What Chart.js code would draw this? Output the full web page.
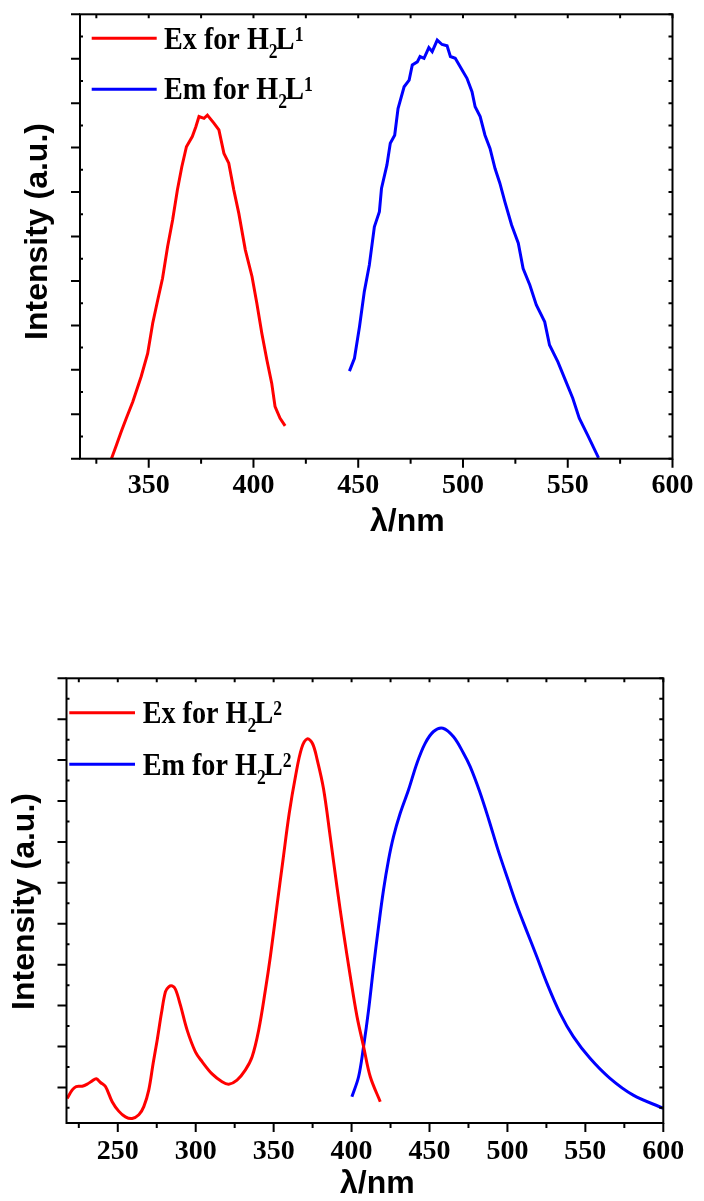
<!DOCTYPE html>
<html>
<head>
<meta charset="utf-8">
<title>Excitation and emission spectra of H2L1 and H2L2</title>
<script src="https://cdn.jsdelivr.net/npm/chart.js"></script>
<style>
  html, body { margin: 0; padding: 0; background: #fff; }
  #wrap { position: relative; width: 704px; height: 1201px; }
  .box { position: absolute; left: 0; width: 704px; }
  #box1 { top: 0; height: 560px; }
  #box2 { top: 560px; height: 641px; }
</style>
</head>
<body>
<div id="wrap">
  <div class="box" id="box1"><canvas id="chart1"></canvas></div>
  <div class="box" id="box2"><canvas id="chart2"></canvas></div>
</div>

<script>
// ---- data (intensity in arbitrary units, one unit = one major tick) ----

// top panel, H2L1
var ex1Wave = [332.2, 334.6, 336.9, 339.3, 342.4, 346.4, 349.5, 351.9, 354.3, 356.6, 359.0, 361.4, 363.7, 365.8, 368.0, 370.8, 372.5, 374.0, 376.4, 378.0, 381.1, 383.5, 385.9, 388.2, 390.6, 393.0, 396.1, 399.3, 401.6, 404.0, 406.4, 408.7, 410.3, 412.7, 415.1];
var ex1Int  = [0, 0.31, 0.61, 0.91, 1.28, 1.85, 2.37, 3.05, 3.57, 4.06, 4.77, 5.37, 6.05, 6.57, 7.02, 7.25, 7.47, 7.70, 7.66, 7.73, 7.55, 7.40, 6.87, 6.65, 6.05, 5.52, 4.70, 4.10, 3.50, 2.82, 2.22, 1.70, 1.17, 0.91, 0.74];

var em1Wave = [445.8, 448.2, 450.6, 452.9, 455.3, 457.7, 460.1, 461.1, 463.7, 465.3, 467.4, 469.0, 471.9, 474.3, 475.8, 478.2, 479.5, 481.4, 483.7, 485.3, 487.7, 490.0, 492.4, 494.0, 496.3, 499.5, 501.9, 504.3, 505.8, 508.2, 510.5, 512.9, 515.3, 517.6, 520.0, 523.2, 526.4, 528.7, 531.9, 535.0, 539.0, 541.3, 545.3, 549.2, 552.4, 555.5, 559.5, 564.7];
var em1Int  = [1.97, 2.26, 2.97, 3.76, 4.36, 5.22, 5.56, 6.08, 6.61, 7.10, 7.28, 7.88, 8.37, 8.52, 8.86, 8.93, 9.05, 9.01, 9.25, 9.16, 9.42, 9.32, 9.29, 9.05, 9.01, 8.75, 8.56, 8.26, 7.92, 7.70, 7.28, 6.98, 6.53, 6.20, 5.78, 5.26, 4.85, 4.28, 3.91, 3.46, 3.08, 2.56, 2.18, 1.73, 1.36, 0.91, 0.53, 0.02];

// bottom panel, H2L2
var ex2Wave = [217.5, 220.8, 223.3, 227.2, 230.4, 233.6, 236.2, 238.9, 242.1, 246.4, 250.6, 254.9, 259.2, 263.5, 266.7, 269.9, 272.7, 275.3, 278.0, 280.6, 282.7, 284.9, 287.0, 290.2, 294.5, 299.8, 304.1, 310.5, 316.9, 321.2, 326.5, 331.9, 336.2, 340.4, 344.7, 347.9, 352, 356, 360, 364, 368, 371.6, 375, 378, 382, 386.3, 390.6, 394.9, 399.2, 403.5, 407.7, 412.0, 418.4];
var ex2Int  = [0.73, 0.94, 1.02, 1.03, 1.08, 1.16, 1.21, 1.12, 1.02, 0.65, 0.42, 0.28, 0.24, 0.33, 0.53, 0.94, 1.59, 2.16, 2.81, 3.34, 3.46, 3.48, 3.40, 3.01, 2.40, 1.87, 1.63, 1.33, 1.14, 1.08, 1.18, 1.43, 1.75, 2.40, 3.38, 4.20, 5.4, 6.56, 7.7, 8.6, 9.3, 9.52, 9.4, 9.0, 8.3, 7.13, 5.91, 4.77, 3.71, 2.73, 2.00, 1.26, 0.65];

var em2Wave = [400.2, 404.5, 407.7, 410.9, 414.1, 417.3, 420.5, 423.7, 426.9, 431.2, 436.5, 441.9, 447.2, 452.6, 458.6, 465.4, 471.8, 476.1, 482, 488, 494, 500.6, 506.0, 512.4, 518.8, 525.3, 533.8, 542.3, 553.0, 565.8, 580.7, 600];
var em2Int  = [0.77, 1.26, 2.00, 2.89, 3.95, 4.93, 5.83, 6.56, 7.13, 7.70, 8.27, 8.92, 9.41, 9.70, 9.78, 9.57, 9.17, 8.84, 8.25, 7.55, 6.8, 6.05, 5.45, 4.82, 4.20, 3.55, 2.81, 2.24, 1.71, 1.22, 0.81, 0.49];

// axes
var xMajor1 = [350, 400, 450, 500, 550, 600];
var xMinor1 = [325, 375, 425, 475, 525, 575];
var yMajor1 = [0, 1, 2, 3, 4, 5, 6, 7, 8, 9, 10];
var yMinor1 = [0.5, 1.5, 2.5, 3.5, 4.5, 5.5, 6.5, 7.5, 8.5, 9.5];

var xMajor2 = [250, 300, 350, 400, 450, 500, 550, 600];
var xMinor2 = [225, 275, 325, 375, 425, 475, 525, 575];
var yMajor2 = [1, 2, 3, 4, 5, 6, 7, 8, 9, 10, 11];
var yMinor2 = [0.5, 1.5, 2.5, 3.5, 4.5, 5.5, 6.5, 7.5, 8.5, 9.5, 10.5];

var xTitle = 'λ/nm';
var yTitle = 'Intensity (a.u.)';
var legendWords = ['Ex', 'Em'];

// ---- helpers ----
function points(xs, ys) {
  return xs.map(function (x, i) { return { x: x, y: ys[i] }; });
}

// text with sub/superscripts, squeezed horizontally like the original
function drawRich(ctx, x, y, parts, sx) {
  ctx.save();
  ctx.translate(x, y);
  ctx.scale(sx, 1);
  ctx.fillStyle = '#000';
  ctx.textAlign = 'left';
  ctx.textBaseline = 'alphabetic';
  var cx = 0;
  parts.forEach(function (p) {
    ctx.font = 'bold ' + p.size + 'px "Liberation Serif", "Times New Roman", serif';
    cx += p.dx || 0;
    ctx.fillText(p.text, cx, p.dy || 0);
    cx += ctx.measureText(p.text).width;
  });
  ctx.restore();
}

function legendParts(word, ligand) {
  return [
    { text: word + ' for H', size: 32 },
    { text: '2', size: 20, dy: 9 },
    { text: 'L', size: 32, dx: -2 },
    { text: ligand, size: 20, dy: -8 }
  ];
}

// frame, tick marks, axis titles and legend
var decorPlugin = {
  id: 'decor',
  afterDraw: function (chart, args, o) {
    var ctx = chart.ctx, a = chart.chartArea;
    var xs = chart.scales.x, ys = chart.scales.y;
    ctx.save();
    ctx.strokeStyle = '#000';
    ctx.lineWidth = 2;
    ctx.beginPath();
    o.xMajor.forEach(function (v) {
      var p = xs.getPixelForValue(v);
      ctx.moveTo(p, a.bottom); ctx.lineTo(p, a.bottom + 9);
      ctx.moveTo(p, a.top); ctx.lineTo(p, a.top + 4);
    });
    o.xMinor.forEach(function (v) {
      var p = xs.getPixelForValue(v);
      ctx.moveTo(p, a.bottom); ctx.lineTo(p, a.bottom + 5);
      ctx.moveTo(p, a.top); ctx.lineTo(p, a.top + 4);
    });
    o.yMajor.forEach(function (v) {
      var p = ys.getPixelForValue(v);
      ctx.moveTo(a.left - 9, p); ctx.lineTo(a.left, p);
      ctx.moveTo(a.right - 4, p); ctx.lineTo(a.right, p);
    });
    o.yMinor.forEach(function (v) {
      var p = ys.getPixelForValue(v);
      ctx.moveTo(a.left, p); ctx.lineTo(a.left + 3, p);
      ctx.moveTo(a.right - 4, p); ctx.lineTo(a.right, p);
    });
    ctx.stroke();
    ctx.strokeRect(a.left, a.top, a.right - a.left, a.bottom - a.top);

    ctx.fillStyle = '#000';
    ctx.font = 'bold 32px "Liberation Sans", Arial, sans-serif';
    ctx.textAlign = 'left';
    ctx.textBaseline = 'alphabetic';
    ctx.fillText(xTitle, o.xTitleX, o.xTitleY);

    ctx.save();
    ctx.translate(o.yTitleX, o.yTitleY);
    ctx.rotate(-Math.PI / 2);
    ctx.textAlign = 'center';
    ctx.textBaseline = 'middle';
    ctx.fillText(yTitle, 0, 0);
    ctx.restore();

    chart.data.datasets.forEach(function (ds, i) {
      ctx.strokeStyle = ds.borderColor;
      ctx.lineWidth = 3;
      ctx.beginPath();
      ctx.moveTo(o.legX0, o.legLineY[i]);
      ctx.lineTo(o.legX1, o.legLineY[i]);
      ctx.stroke();
      drawRich(ctx, o.legTextX, o.legBase[i], legendParts(legendWords[i], o.ligand), 0.88);
    });
    ctx.restore();
  }
};

function makeChart(id, cfg) {
  var tickFont = { family: '"Liberation Serif", "Times New Roman", serif', size: 28, weight: 'bold' };
  return new Chart(document.getElementById(id), {
    type: 'line',
    data: {
      datasets: [
        { label: 'Ex for H2L' + cfg.ligand, data: cfg.ex, borderColor: '#ff0000', borderWidth: 3,
          pointRadius: 0, tension: cfg.tension, fill: false },
        { label: 'Em for H2L' + cfg.ligand, data: cfg.em, borderColor: '#0000ff', borderWidth: 3,
          pointRadius: 0, tension: cfg.tension, fill: false }
      ]
    },
    options: {
      responsive: true,
      maintainAspectRatio: false,
      animation: false,
      devicePixelRatio: 1,
      layout: { padding: cfg.padding },
      scales: {
        x: {
          type: 'linear', min: cfg.xMin, max: 600,
          grid: { display: false, drawTicks: false },
          border: { display: false },
          afterBuildTicks: function (s) { s.ticks = cfg.xMajor.map(function (v) { return { value: v }; }); },
          afterFit: function (s) { s.height = cfg.xHeight; },
          ticks: { font: tickFont, color: '#000', padding: cfg.tickPad, maxRotation: 0, autoSkip: false }
        },
        y: { type: 'linear', min: cfg.yMin, max: cfg.yMax, display: false }
      },
      plugins: {
        legend: { display: false },
        tooltip: { enabled: false },
        decor: {
          xMajor: cfg.xMajor, xMinor: cfg.xMinor, yMajor: cfg.yMajor, yMinor: cfg.yMinor,
          xTitleX: cfg.xTitleX, xTitleY: cfg.xTitleY, yTitleX: cfg.yTitleX, yTitleY: cfg.yTitleY,
          legX0: cfg.legX0, legX1: cfg.legX1, legLineY: cfg.legLineY, legTextX: cfg.legTextX,
          legBase: cfg.legBase, ligand: String(cfg.ligand)
        }
      }
    },
    plugins: [decorPlugin]
  });
}

makeChart('chart1', {
  ligand: 1, ex: points(ex1Wave, ex1Int), em: points(em1Wave, em1Int), tension: 0,
  padding: { left: 80, right: 26.3, top: 14.3, bottom: 0 }, xHeight: 101.3, tickPad: 10.5,
  xMin: 317.2, yMin: 0, yMax: 10,
  xMajor: xMajor1, xMinor: xMinor1, yMajor: yMajor1, yMinor: yMinor1,
  xTitleX: 370, xTitleY: 531, yTitleX: 38, yTitleY: 231.5,
  legX0: 91.7, legX1: 156.7, legLineY: [38.3, 89.3], legTextX: 164, legBase: [49, 99.3]
});

makeChart('chart2', {
  ligand: 2, ex: points(ex2Wave, ex2Int), em: points(em2Wave, em2Int), tension: 0.35,
  padding: { left: 66.5, right: 40.7, top: 118.3, bottom: 0 }, xHeight: 78, tickPad: 11.5,
  xMin: 217.1, yMin: 0.13, yMax: 11,
  xMajor: xMajor2, xMinor: xMinor2, yMajor: yMajor2, yMinor: yMinor2,
  xTitleX: 340, xTitleY: 633, yTitleX: 25, yTitleY: 341.5,
  legX0: 69.3, legX1: 135, legLineY: [152.7, 204.3], legTextX: 142.7, legBase: [163.3, 215]
});
</script>
</body>
</html>
